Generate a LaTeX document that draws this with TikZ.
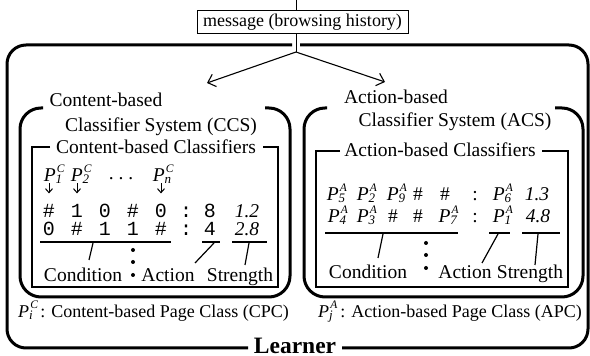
\documentclass[tikz,border=0pt]{standalone}
\usepackage{fontspec}
\setmainfont{Liberation Serif}
\setmonofont{Liberation Mono}
\usetikzlibrary{arrows.meta}

% page class: italic P with stacked super- and subscript
\newcommand{\pcl}[2]{\textit{P}\rlap{\kern1.2pt\raisebox{9.5pt}{\fontsize{11.5}{12}\selectfont\textit{#2}}}%
    \raisebox{-1.5pt}{\fontsize{13}{13}\selectfont\textit{#1}}}

\begin{document}
\begin{tikzpicture}[x=1pt,y=1pt,
    txt/.style={inner sep=0pt,anchor=base,font=\fontsize{19.5}{22}\selectfont},
    mono/.style={inner sep=0pt,anchor=base,font=\fontsize{20}{22}\selectfont\ttfamily},
    frame/.style={line width=3pt,rounded corners=21pt},
    inner/.style={line width=1.5pt},
    tick/.style={line width=1.2pt},
    bigarrow/.style={line width=1.1pt,-{Straight Barb[length=7pt,width=13pt]}},
    downarrow/.style={line width=1pt,-{Straight Barb[length=4pt,width=7pt]}}]
    \useasboundingbox (0,0) rectangle (590,356);

    % message coming in
    \node[draw,line width=1pt,inner sep=0pt,minimum width=211pt,minimum height=23pt,
          font=\fontsize{18}{20}\selectfont] (msg) at (302.5,333.5) {message (browsing history)};
    \coordinate (split) at (296,304);
    \draw[line width=1pt] (split |- msg.north) -- (296,356);
    \draw[line width=1pt] (split |- msg.south) -- (split);
    \draw[bigarrow] (split) -- (207,273);
    \draw[bigarrow] (split) -- (385,274);

    % learner frame
    \node[inner sep=0pt,font=\fontsize{23.5}{26}\selectfont\bfseries] (learner) at (295,10.5) {Learner};
    \draw[frame,rounded corners=19pt] (292,311) -- (7,311) -- (7,8) -- (248,8);
    \draw[frame,rounded corners=19pt] (342,8) -- (588,8) -- (588,311) -- (300,311);

    % content-based classifier system
    \node[txt] (ccsA) at (106,249.5) {Content-based};
    \node[txt] (ccsB) at (161,224.5) {Classifier System (CCS)};
    \draw[frame] (43,248) -- (20,248) -- (20,59) -- (290,59) -- (290,248) -- (265,248);
    \node[txt] (ccsin) at (156,202.5) {Content-based Classifiers};
    \draw[inner] (50,209) -- (32,209) -- (32,69) -- (278,69) -- (278,209) -- (263,209);

    \foreach \x/\s [count=\i] in {53/1,80/2,162/n}
        \node[txt] (pc\i) at (\x,174.3) {\pcl{\s}{C}};
    \node[txt] (pdots) at (121,176.5) {.\ .\ .};
    \foreach \x/\s [count=\i] in {49/\#,77/1,105/0,133/\#,161/0,186/:,210/8}
        \node[mono] (ca\i) at (\x,138.5) {\s};
    \foreach \x/\s [count=\i] in {49/0,77/\#,105/1,133/1,161/\#,186/:,210/4}
        \node[mono] (cb\i) at (\x,120.5) {\s};
    \node[txt] (cs1) at (247,138.5) {\textit{1.2}};
    \node[txt] (cs2) at (247,120.5) {\textit{2.8}};
    \foreach \p/\c in {1/1,2/2,3/5}
        \draw[downarrow] (pc\p.south -| ca\c) -- ++(0,-10);

    \draw[tick] (40,114) -- (171,114) (202,114) -- (220,114) (232,114) -- (267,114);
    \draw[tick] (93,113) -- (89,96) (214,113) -- (195,93) (249,113) -- (245,91);
    \foreach \y in {106,94,81} \fill (133,\y) circle (2pt);
    \node[txt] (ccond) at (83,74) {Condition};
    \node[txt] (cact) at (168,74) {Action};
    \node[txt] (cstr) at (240,74) {Strength};

    % action-based classifier system
    \node[txt] (acsA) at (396,252.5) {Action-based};
    \node[txt] (acsB) at (455,229.5) {Classifier System (ACS)};
    \draw[frame] (327,248) -- (304,248) -- (304,59) -- (583,59) -- (583,248) -- (555,248);
    \node[txt] (acsin) at (440,199.5) {Action-based Classifiers};
    \draw[inner] (340,205) -- (316,205) -- (316,69) -- (568,69) -- (568,205) -- (542,205);

    \foreach \x/\s [count=\i] in {336/{\pcl{5}{A}},366/{\pcl{2}{A}},396/{\pcl{9}{A}},418/\#,445/\#,475/:,502/{\pcl{6}{A}},537/{\textit{1.3}}}
        \node[txt] (aa\i) at (\x,155) {\s};
    \foreach \x/\s [count=\i] in {337/{\pcl{4}{A}},366/{\pcl{3}{A}},393/\#,418/\#,448/{\pcl{7}{A}},475/:,502/{\pcl{1}{A}},538/{\textit{4.8}}}
        \node[txt] (ab\i) at (\x,133) {\s};

    \draw[tick] (325,123) -- (458,123) (489,123) -- (510,123) (522,123) -- (560,123);
    \draw[tick] (383,122) -- (378,98) (498,122) -- (482,93) (538,122) -- (535,91);
    \foreach \y in {113,101,88} \fill (426,\y) circle (2pt);
    \node[txt] (acond) at (368,77) {Condition};
    \node[txt] (aact) at (465,77) {Action};
    \node[txt] (astr) at (530,77) {Strength};

    % legend
    \node[txt,anchor=base west,font=\fontsize{18}{20}\selectfont] (cpc) at (18,38) {\pcl{i}{C}\kern3pt{} : Content-based Page Class (CPC)};
    \node[txt,anchor=base west,font=\fontsize{18}{20}\selectfont] (apc) at (318,38) {\pcl{j}{A}\kern3pt{} : Action-based Page Class (APC)};

\end{tikzpicture}
\end{document}
